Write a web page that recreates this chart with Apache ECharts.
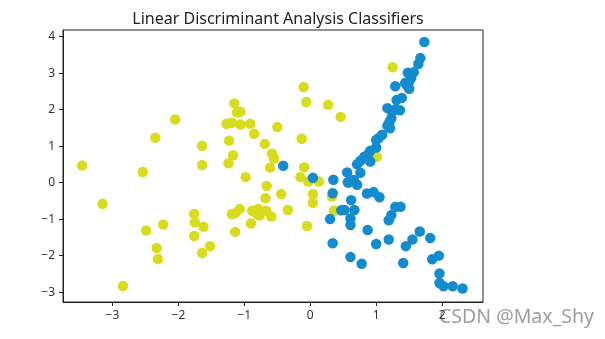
<!DOCTYPE html>
<html>
<head>
<meta charset="utf-8">
<script src="https://cdn.jsdelivr.net/npm/echarts@6/dist/echarts.min.js"></script>
<style>
  html, body { margin: 0; padding: 0; background: #fff; }
  #chart { width: 605px; height: 339px; }
</style>
</head>
<body>
<div id="chart"></div>
<script>
  // class 0 (yellow) points, [x, y]
  const yellowPoints = [
    [-3.46, 0.47], [-3.15, -0.58], [-2.84, -2.83], [-2.54, 0.29], [-2.49, -1.31],
    [-2.35, 1.23], [-2.33, -1.79], [-2.31, -2.09], [-2.23, -1.15], [-2.05, 1.73],
    [-1.76, -0.86], [-1.75, -1.09], [-1.76, -1.46], [-1.64, 1.01], [-1.64, 0.48],
    [-1.62, -1.21], [-1.64, -1.93], [-1.52, -1.74], [-1.27, 1.61], [-1.19, 1.64],
    [-1.06, 1.59], [-1.15, 2.17], [-1.11, 1.92], [-1.06, 1.94], [-1.23, 1.15],
    [-1.17, 0.75], [-1.24, 0.53], [-1.19, -0.86], [-1.14, -0.84], [-1.07, -0.72],
    [-1.14, -1.35], [-0.98, 0.15], [-0.91, 1.61], [-0.85, 1.34], [-0.90, -1.12],
    [-0.88, -0.77], [-0.79, -0.72], [-0.81, -0.86], [-0.77, -0.90], [-0.67, -0.77],
    [-0.59, -0.93], [-0.69, 1.06], [-0.58, 0.79], [-0.55, 0.66], [-0.61, 0.41],
    [-0.66, -0.09], [-0.68, -0.43], [-0.50, 1.52], [-0.44, -0.31], [-0.34, -0.75],
    [-0.10, 2.62], [-0.06, 2.21], [-0.13, 1.20], [-0.09, 0.42], [-0.15, 0.15],
    [-0.03, 0.03], [0.13, 0.03], [0.04, -0.31], [0.04, -0.55], [-0.05, -1.19],
    [0.27, 2.13], [0.46, 1.80], [0.33, -0.38], [0.36, -0.77], [1.01, 0.71],
    [1.25, 3.16]
  ]

  // class 1 (blue) points, [x, y]
  const bluePoints = [
    [-0.41, 0.46], [0.04, 0.13], [0.35, 0.08], [0.34, -0.29], [0.30, -1.00],
    [0.34, -1.66], [0.47, -0.76], [0.52, -0.75], [0.56, 0.28], [0.76, 0.27],
    [0.66, 0.07], [0.58, 0.00], [0.71, -0.06], [0.57, 0.01], [0.61, -0.98],
    [0.61, -1.16], [0.62, -0.48], [0.61, -2.04], [0.67, -0.75],
    [0.71, 0.50], [0.76, 0.60], [0.82, 0.71], [0.88, 0.78], [0.91, 0.58],
    [0.91, 0.87], [1.00, 0.96], [1.00, 1.17], [1.04, 1.22], [1.09, 1.31],
    [1.17, 1.56], [1.21, 1.49], [1.20, 1.66], [1.23, 1.76], [1.17, 2.04],
    [1.29, 2.00], [1.36, 1.98], [1.24, 1.95], [1.31, 2.26], [1.39, 2.32],
    [1.29, 2.64], [1.47, 2.66], [1.50, 2.57], [1.44, 2.73], [1.48, 3.01],
    [1.57, 3.02], [1.53, 2.86], [1.50, 2.77], [1.64, 3.25], [1.67, 3.41],
    [1.73, 3.85],
    [0.86, -0.30], [0.96, -0.26], [1.05, -0.40], [1.29, -0.67], [1.37, -0.66],
    [1.23, -0.89], [1.19, -1.03], [0.87, -1.30], [1.00, -1.68], [1.19, -1.56],
    [1.45, -1.74], [0.78, -2.22], [1.41, -2.20], [1.55, -1.56], [1.66, -1.34],
    [1.82, -1.52], [1.85, -2.10], [1.95, -2.00], [1.96, -2.49], [1.96, -2.75],
    [2.02, -2.84], [2.16, -2.84], [2.31, -2.90]
  ]

  const xTicks = [-3, -2, -1, 0, 1, 2]
  const yTicks = [-3, -2, -1, 0, 1, 2, 3, 4]

  const fmt = v => (v < 0 ? '\u2212' + Math.abs(v) : String(v))
  const font = 'Noto Sans'

  const myChart = echarts.init(document.getElementById('chart'))
  myChart.setOption({
    animation: false,
    title: {
      text: 'Linear Discriminant Analysis Classifiers',
      left: 273,
      top: 6,
      textAlign: 'center',
      textStyle: { fontFamily: font, fontSize: 16, fontWeight: 'normal', color: '#222' }
    },
    grid: {
      left: 63,
      right: 122,
      top: 30,
      bottom: 37,
      show: true,
      borderColor: '#222',
      borderWidth: 1
    },
    xAxis: {
      type: 'value',
      min: -3.75,
      max: 2.62,
      splitLine: { show: false },
      axisLine: { show: true, onZero: false, lineStyle: { color: '#222' } },
      axisTick: { show: true, length: 4, customValues: xTicks, lineStyle: { color: '#222' } },
      axisLabel: {
        customValues: xTicks,
        formatter: fmt,
        margin: 8,
        fontFamily: font,
        fontSize: 12,
        color: '#333'
      }
    },
    yAxis: {
      type: 'value',
      min: -3.27,
      max: 4.18,
      splitLine: { show: false },
      axisLine: { show: true, onZero: false, lineStyle: { color: '#222' } },
      axisTick: { show: true, length: 4, customValues: yTicks, lineStyle: { color: '#222' } },
      axisLabel: {
        customValues: yTicks,
        formatter: fmt,
        margin: 8,
        fontFamily: font,
        fontSize: 12,
        color: '#333'
      }
    },
    series: [
      {
        name: 'class 0',
        type: 'scatter',
        symbolSize: 10.5,
        itemStyle: { color: '#d8dc1c', opacity: 1 },
        data: yellowPoints
      },
      {
        name: 'class 1',
        type: 'scatter',
        symbolSize: 10.5,
        itemStyle: { color: '#128ccf', opacity: 1 },
        data: bluePoints
      }
    ],
    graphic: [
      {
        type: 'text',
        left: 439,
        top: 307,
        style: {
          text: 'CSDN @Max_Shy',
          fontFamily: font,
          fontSize: 19.5,
          fill: 'rgba(140,140,140,0.85)'
        }
      }
    ]
  })
</script>
</body>
</html>
